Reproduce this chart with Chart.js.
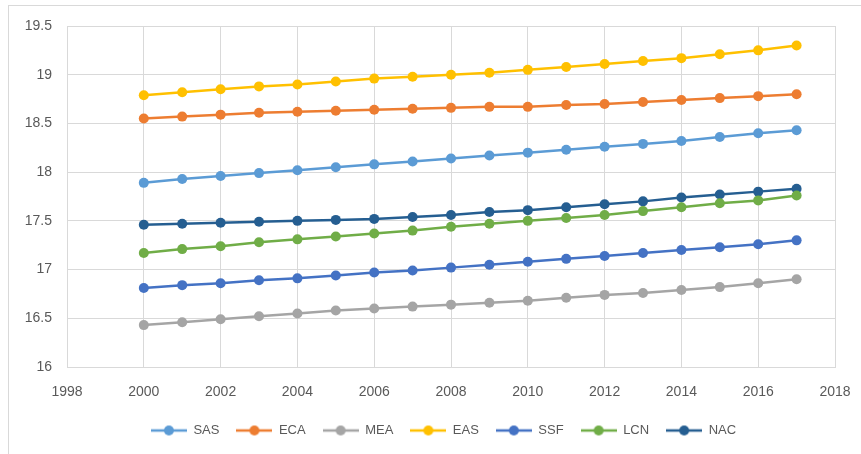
<!DOCTYPE html>
<html>
<head>
<meta charset="utf-8">
<script src="https://cdn.jsdelivr.net/npm/chart.js@4.4.1/dist/chart.umd.min.js"></script>
<style>
  html, body { margin: 0; padding: 0; background: #fff; overflow: hidden; }
  #frame { position: absolute; left: 8px; top: 5px; width: 900px; height: 500px; border: 1px solid #d9d9d9; }
  #wrap { position: absolute; left: 0; top: 0; width: 861px; height: 454px; }
</style>
</head>
<body>
<div id="frame"></div>
<div id="wrap"><canvas id="chart"></canvas></div>
<script>
const years = [2000, 2001, 2002, 2003, 2004, 2005, 2006, 2007, 2008, 2009, 2010, 2011, 2012, 2013, 2014, 2015, 2016, 2017];

const sas = [17.89, 17.93, 17.96, 17.99, 18.02, 18.05, 18.08, 18.11, 18.14, 18.17, 18.20, 18.23, 18.26, 18.29, 18.32, 18.36, 18.40, 18.43];
const eca = [18.55, 18.57, 18.59, 18.61, 18.62, 18.63, 18.64, 18.65, 18.66, 18.67, 18.67, 18.69, 18.70, 18.72, 18.74, 18.76, 18.78, 18.80];
const mea = [16.43, 16.46, 16.49, 16.52, 16.55, 16.58, 16.60, 16.62, 16.64, 16.66, 16.68, 16.71, 16.74, 16.76, 16.79, 16.82, 16.86, 16.90];
const eas = [18.79, 18.82, 18.85, 18.88, 18.90, 18.93, 18.96, 18.98, 19.00, 19.02, 19.05, 19.08, 19.11, 19.14, 19.17, 19.21, 19.25, 19.30];
const ssf = [16.81, 16.84, 16.86, 16.89, 16.91, 16.94, 16.97, 16.99, 17.02, 17.05, 17.08, 17.11, 17.14, 17.17, 17.20, 17.23, 17.26, 17.30];
const lcn = [17.17, 17.21, 17.24, 17.28, 17.31, 17.34, 17.37, 17.40, 17.44, 17.47, 17.50, 17.53, 17.56, 17.60, 17.64, 17.68, 17.71, 17.76];
const nac = [17.46, 17.47, 17.48, 17.49, 17.50, 17.51, 17.52, 17.54, 17.56, 17.59, 17.61, 17.64, 17.67, 17.70, 17.74, 17.77, 17.80, 17.83];

const series = [
    { label: 'SAS', values: sas, color: '#5b9bd5' },
    { label: 'ECA', values: eca, color: '#ed7d31' },
    { label: 'MEA', values: mea, color: '#a5a5a5' },
    { label: 'EAS', values: eas, color: '#ffc000' },
    { label: 'SSF', values: ssf, color: '#4472c4' },
    { label: 'LCN', values: lcn, color: '#70ad47' },
    { label: 'NAC', values: nac, color: '#255e91' }
];

// legend marker: short line with a dot in the middle
function legendMarker(color) {
    const c = document.createElement('canvas');
    c.width = 36;
    c.height = 12;
    const ctx = c.getContext('2d');
    ctx.strokeStyle = color;
    ctx.lineWidth = 2.5;
    ctx.beginPath();
    ctx.moveTo(0, 6);
    ctx.lineTo(36, 6);
    ctx.stroke();
    ctx.fillStyle = color;
    ctx.beginPath();
    ctx.arc(18, 6, 5, 0, Math.PI * 2);
    ctx.fill();
    return c;
}

const datasets = series.map(s => ({
    label: s.label,
    data: years.map((y, i) => ({ x: y, y: s.values[i] })),
    borderColor: s.color,
    backgroundColor: s.color,
    pointBackgroundColor: s.color,
    pointBorderColor: s.color,
    pointStyle: 'circle',
    pointRadius: 5,
    pointBorderWidth: 0,
    borderWidth: 2.5,
    tension: 0
}));

const textColor = '#595959';
const gridColor = '#d9d9d9';
const font = { family: 'Liberation Sans, Arial, sans-serif', size: 13 };
const tickFont = { family: 'Liberation Sans, Arial, sans-serif', size: 14 };

// the legend in the picture sits a bit right of the canvas centre
const legendShift = {
    id: 'legendShift',
    afterLayout(chart) {
        const lg = chart.legend;
        if (!lg) return;
        lg.left += 26;
        lg.right += 26;
    }
};

new Chart(document.getElementById('chart'), {
    type: 'line',
    data: { datasets: datasets },
    plugins: [legendShift],
    options: {
        responsive: true,
        maintainAspectRatio: false,
        animation: false,
        layout: { padding: { left: 0, top: 26, right: 26, bottom: 7 } },
        plugins: {
            tooltip: { enabled: false },
            legend: {
                position: 'bottom',
                labels: {
                    color: textColor,
                    font: font,
                    usePointStyle: true,
                    pointStyleWidth: 36,
                    padding: 17,
                    generateLabels: chart => chart.data.datasets.map((d, i) => ({
                        text: d.label,
                        pointStyle: legendMarker(d.borderColor),
                        fillStyle: d.borderColor,
                        strokeStyle: d.borderColor,
                        lineWidth: 0,
                        fontColor: textColor,
                        datasetIndex: i,
                        hidden: false
                    }))
                }
            }
        },
        scales: {
            x: {
                type: 'linear',
                min: 1998,
                max: 2018,
                ticks: { stepSize: 2, color: textColor, font: tickFont, padding: 17, callback: v => String(v) },
                grid: { color: gridColor, drawTicks: false },
                border: { color: gridColor },
                afterFit: s => { s.height = 40; s.paddingLeft = 0; s.paddingRight = 0; }
            },
            y: {
                min: 16,
                max: 19.5,
                ticks: { stepSize: 0.5, color: textColor, font: tickFont, padding: 15, callback: v => String(v) },
                grid: { color: gridColor, drawTicks: false },
                border: { color: gridColor },
                afterFit: s => { s.width = 67; s.paddingTop = 0; s.paddingBottom = 0; }
            }
        }
    }
});
</script>
</body>
</html>
